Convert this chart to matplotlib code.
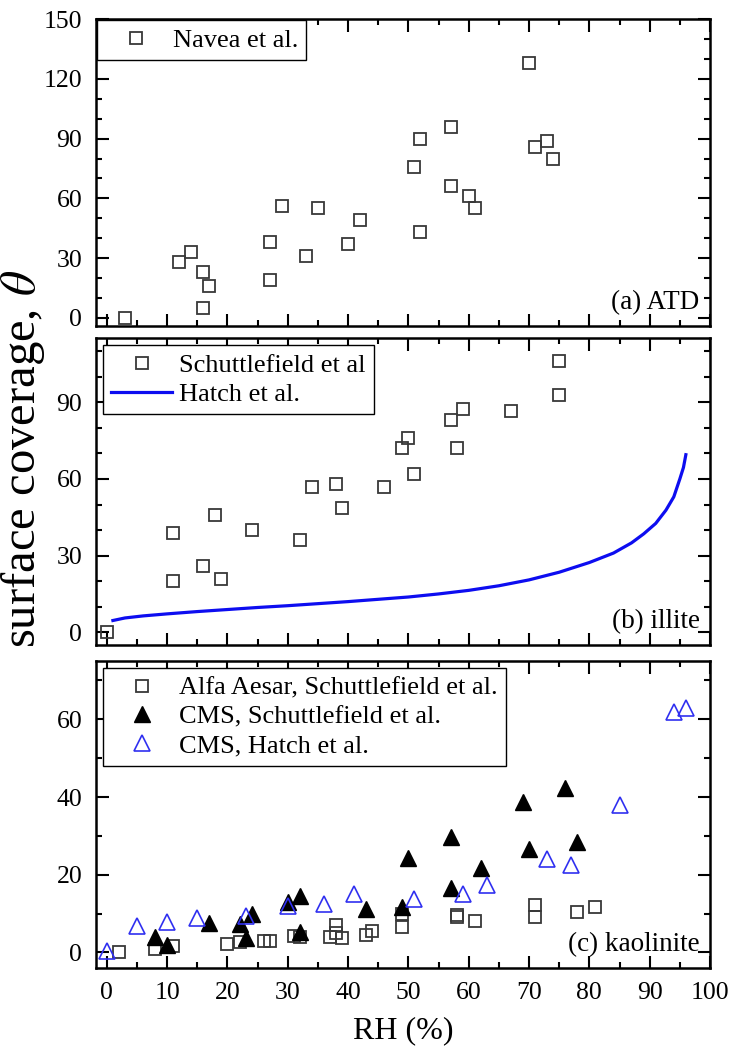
import numpy as np
import matplotlib
matplotlib.use("Agg")
import matplotlib.pyplot as plt
from matplotlib.ticker import MultipleLocator

plt.rcParams['font.family'] = ['Liberation Serif', 'DejaVu Serif']
plt.rcParams['mathtext.fontset'] = 'stix'

# (a) ATD, Navea et al.
atd_rh = [3, 12, 14, 16, 17, 16, 27, 27, 29, 33, 35, 40, 42,
          52, 57, 51, 57, 60, 61, 52, 70, 71, 73, 74]
atd_theta = [0, 28, 33, 23, 16, 5, 38, 19, 56, 31, 55, 37, 49,
             90, 96, 76, 66, 61, 55, 43, 128, 86, 89, 80]

# (b) illite, Schuttlefield et al.
ill_rh = [0, 11, 11, 16, 18, 19, 24, 32, 34, 38, 39, 46,
          49, 50, 51, 57, 59, 58, 67, 75, 75]
ill_theta = [0, 39, 20, 26, 46, 21, 40, 36, 57, 58, 48.5, 57,
             72, 76, 62, 83, 87.5, 72, 86.5, 106, 93]

# (b) illite, Hatch et al. curve
hatch_rh = [1, 3, 6, 10, 15, 20, 25, 30, 35, 40, 45, 50, 55, 60, 65,
            70, 75, 80, 84, 87, 89, 91, 92.7, 94, 95, 95.6, 96]
hatch_theta = [4.6, 5.6, 6.4, 7.2, 8.1, 8.9, 9.7, 10.4, 11.2, 12.0, 12.9,
               13.8, 15.0, 16.4, 18.2, 20.5, 23.5, 27.3, 31, 35, 38.5,
               42.6, 47.8, 53, 60, 64.5, 69.5]

# (c) kaolinite
alfa_rh = [2, 8, 11, 20, 22, 26, 27, 31, 32, 37, 38, 38, 39, 43, 44,
           49, 49, 58, 58, 61, 71, 71, 78, 81]
alfa_theta = [0, 1, 1.7, 2.1, 2.6, 3, 3, 4.3, 4, 4, 7, 5, 3.7, 4.5, 5.6,
              6.5, 10, 9.6, 9.2, 8, 12.2, 9.2, 10.3, 11.6]

cms_s_rh = [8, 10, 17, 22, 23, 24, 30, 32, 32, 43, 49, 50, 57, 57, 62,
            69, 70, 76, 78]
cms_s_theta = [4, 2, 7.7, 7.3, 3.7, 10, 13, 14.5, 5.4, 11.3, 11.6, 24.4,
               29.6, 16.7, 21.7, 38.7, 26.7, 42.4, 28.4]

cms_h_rh = [0, 5, 10, 15, 23, 30, 36, 41, 51, 59, 63, 73, 77, 85, 94, 96]
cms_h_theta = [0.3, 6.8, 7.9, 9, 9.4, 12, 12.4, 15, 13.7, 15, 17.3, 24,
               22.5, 37.9, 61.9, 63]

sq_col = '#383838'
blue = '#0d0df0'
fs_tick = 18.5
fs_leg = 19
fs_tag = 19.5

fig = plt.figure(figsize=(7.33, 10.59), dpi=100)
left, width = 0.131, 0.8376
ax1 = fig.add_axes([left, 0.6922, width, 0.2898])
ax2 = fig.add_axes([left, 0.3909, width, 0.2895])
ax3 = fig.add_axes([left, 0.0859, width, 0.2899])

ax1.plot(atd_rh, atd_theta, 's', ms=8.3, mfc='none', mec=sq_col, mew=1.3,
         label='Navea et al.')
ax1.set_ylim(-4, 150)
ax1.yaxis.set_major_locator(MultipleLocator(30))
ax1.yaxis.set_minor_locator(MultipleLocator(10))
ax1.text(0.983, 0.035, '(a) ATD', transform=ax1.transAxes, ha='right',
         va='bottom', fontsize=fs_tag)

ax2.plot(ill_rh, ill_theta, 's', ms=8.3, mfc='none', mec=sq_col, mew=1.3,
         label='Schuttlefield et al')
ax2.plot(hatch_rh, hatch_theta, '-', color=blue, lw=2.3, label='Hatch et al.')
ax2.set_ylim(-5, 115)
ax2.yaxis.set_major_locator(MultipleLocator(30))
ax2.yaxis.set_minor_locator(MultipleLocator(10))
ax2.text(0.983, 0.035, '(b) illite', transform=ax2.transAxes, ha='right',
         va='bottom', fontsize=fs_tag)

ax3.plot(alfa_rh, alfa_theta, 's', ms=8.3, mfc='none', mec=sq_col, mew=1.3,
         label='Alfa Aesar, Schuttlefield et al.')
ax3.plot(cms_s_rh, cms_s_theta, '^', ms=11, mfc='black', mec='black',
         label='CMS, Schuttlefield et al.')
ax3.plot(cms_h_rh, cms_h_theta, '^', ms=11, mfc='none', mec='#3030f0',
         mew=1.2, label='CMS, Hatch et al.')
ax3.set_ylim(-4, 75)
ax3.yaxis.set_major_locator(MultipleLocator(20))
ax3.yaxis.set_minor_locator(MultipleLocator(10))
ax3.text(0.983, 0.035, '(c) kaolinite', transform=ax3.transAxes, ha='right',
         va='bottom', fontsize=fs_tag)

for ax in (ax1, ax2, ax3):
    ax.set_xlim(-1.8, 100)
    ax.xaxis.set_major_locator(MultipleLocator(10))
    ax.xaxis.set_minor_locator(MultipleLocator(5))
    ax.tick_params(which='both', direction='in', top=True, right=True,
                   labelsize=fs_tick, width=1.5, pad=10)
    ax.tick_params(which='major', length=9)
    ax.tick_params(which='minor', length=4.5)
    for s in ax.spines.values():
        s.set_linewidth(1.8)
    if ax is not ax3:
        ax.tick_params(labelbottom=False)

leg_kw = dict(fontsize=fs_leg, frameon=True, fancybox=False, framealpha=1,
              edgecolor='black', handletextpad=0.25, borderpad=0.32,
              labelspacing=0.2, handlelength=2.3)
l1 = ax1.legend(loc='upper left', borderaxespad=0.03, **leg_kw)
l2 = ax2.legend(loc='upper left', borderaxespad=0.26, **leg_kw)
l3 = ax3.legend(loc='upper left', borderaxespad=0.26, **leg_kw)
for l in (l1, l2, l3):
    l.get_frame().set_linewidth(1.0)

ax3.set_xlabel('RH (%)', fontsize=23, labelpad=9)
fig.text(0.032, 0.567, 'surface coverage, $\\theta$', rotation=90,
         ha='center', va='center', fontsize=35)

fig.savefig('out.png', dpi=100)
